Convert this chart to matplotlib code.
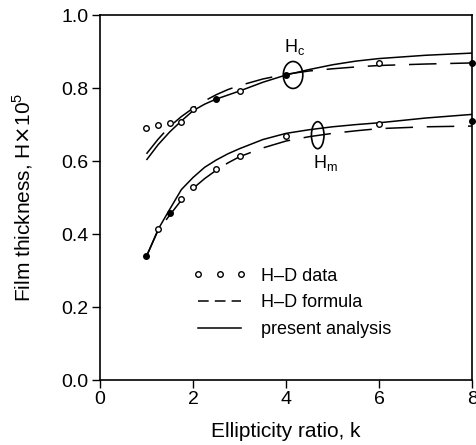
import matplotlib
matplotlib.use("Agg")
import matplotlib.pyplot as plt
from matplotlib.lines import Line2D
from matplotlib.patches import Ellipse

# data points (H-D data)
k_data = [1, 1.25, 1.5, 1.75, 2, 2.5, 3, 4, 6, 8]
hc_data = [0.691, 0.698, 0.705, 0.707, 0.742, 0.769, 0.792, 0.836, 0.870, 0.870]
hm_data = [0.340, 0.413, 0.457, 0.495, 0.528, 0.577, 0.614, 0.668, 0.703, 0.710]
hc_filled = [False, False, False, False, False, True, False, True, False, True]
hm_filled = [True, False, True, False, False, False, False, False, False, True]

# curves
k_curve = [1, 1.25, 1.5, 1.75, 2, 2.25, 2.5, 2.75, 3, 3.5, 4, 4.5, 5, 5.5, 6, 7, 8]
hc_present = [0.603, 0.645, 0.680, 0.710, 0.738, 0.756, 0.770, 0.781, 0.792, 0.816, 0.836,
              0.851, 0.864, 0.874, 0.881, 0.890, 0.896]
hc_formula = [0.620, 0.660, 0.695, 0.722, 0.745, 0.765, 0.782, 0.796, 0.807, 0.825, 0.838,
              0.847, 0.853, 0.858, 0.862, 0.866, 0.869]
hm_present = [0.338, 0.413, 0.468, 0.522, 0.555, 0.583, 0.603, 0.620, 0.634, 0.659, 0.676,
              0.686, 0.694, 0.700, 0.705, 0.718, 0.728]
hm_formula = [0.340, 0.410, 0.452, 0.493, 0.525, 0.552, 0.575, 0.595, 0.612, 0.636, 0.655,
              0.667, 0.676, 0.683, 0.689, 0.694, 0.696]

x_ticks = [0, 2, 4, 6, 8]
y_ticks = [0.0, 0.2, 0.4, 0.6, 0.8, 1.0]

plt.rcParams['font.family'] = ['Liberation Sans', 'DejaVu Sans']

fig = plt.figure(figsize=(4.76, 4.45), dpi=100)
ax = fig.add_axes([0.210, 0.146, 0.782, 0.820])

lw = 1.1
for yc in (hc_present, hm_present):
    ax.plot(k_curve, yc, color='black', lw=lw, solid_capstyle='butt')
for yc in (hc_formula, hm_formula):
    l, = ax.plot(k_curve, yc, color='black', lw=lw)
    l.set_dashes((18, 9))

for yd, filled in ((hc_data, hc_filled), (hm_data, hm_filled)):
    for kk, yy, f in zip(k_data, yd, filled):
        ax.plot(kk, yy, 'o', ms=4, mec='black', mew=1.0,
                mfc='black' if f else 'white', zorder=5, clip_on=False)

# ellipses and labels
ax.add_patch(Ellipse((4.15, 0.836), 0.42, 0.074, fill=False, ec='black', lw=1.2, zorder=6))
ax.add_patch(Ellipse((4.68, 0.671), 0.27, 0.074, fill=False, ec='black', lw=1.2, zorder=6))
ax.text(4.19, 0.912, r'H$_\mathregular{c}$', fontsize=13, ha='center', va='center')
ax.text(4.84, 0.595, r'H$_\mathregular{m}$', fontsize=13, ha='center', va='center')

ax.set_xlim(0, 8)
ax.set_ylim(0, 1.0)
ax.set_xticks(x_ticks)
ax.set_xticklabels([str(v) for v in x_ticks])
ax.set_yticks(y_ticks)
ax.set_yticklabels([f"{v:.1f}" for v in y_ticks])
ax.tick_params(direction='out', length=6, width=1, labelsize=14, pad=2)
for s in ax.spines.values():
    s.set_linewidth(1.2)

ax.set_xlabel('Ellipticity ratio, k', fontsize=15, labelpad=10)
ax.set_ylabel(r'Film thickness, H$\times$10$^\mathregular{5}$', fontsize=15, labelpad=19)

h1 = Line2D([], [], ls='none', marker='o', ms=4, mec='black', mfc='white', mew=1.0)
h2 = Line2D([], [], color='black', lw=lw)
h2.set_dashes((7, 4))
h3 = Line2D([], [], color='black', lw=lw)
leg = ax.legend([h1, h2, h3], ['H\u2013D data', 'H\u2013D formula', 'present analysis'],
                loc='upper left', bbox_to_anchor=(0.229, 0.328), frameon=False,
                fontsize=13, handlelength=3.0, numpoints=3, handletextpad=0.8,
                labelspacing=0.55, borderaxespad=0)

fig.savefig('out.png', dpi=100)
